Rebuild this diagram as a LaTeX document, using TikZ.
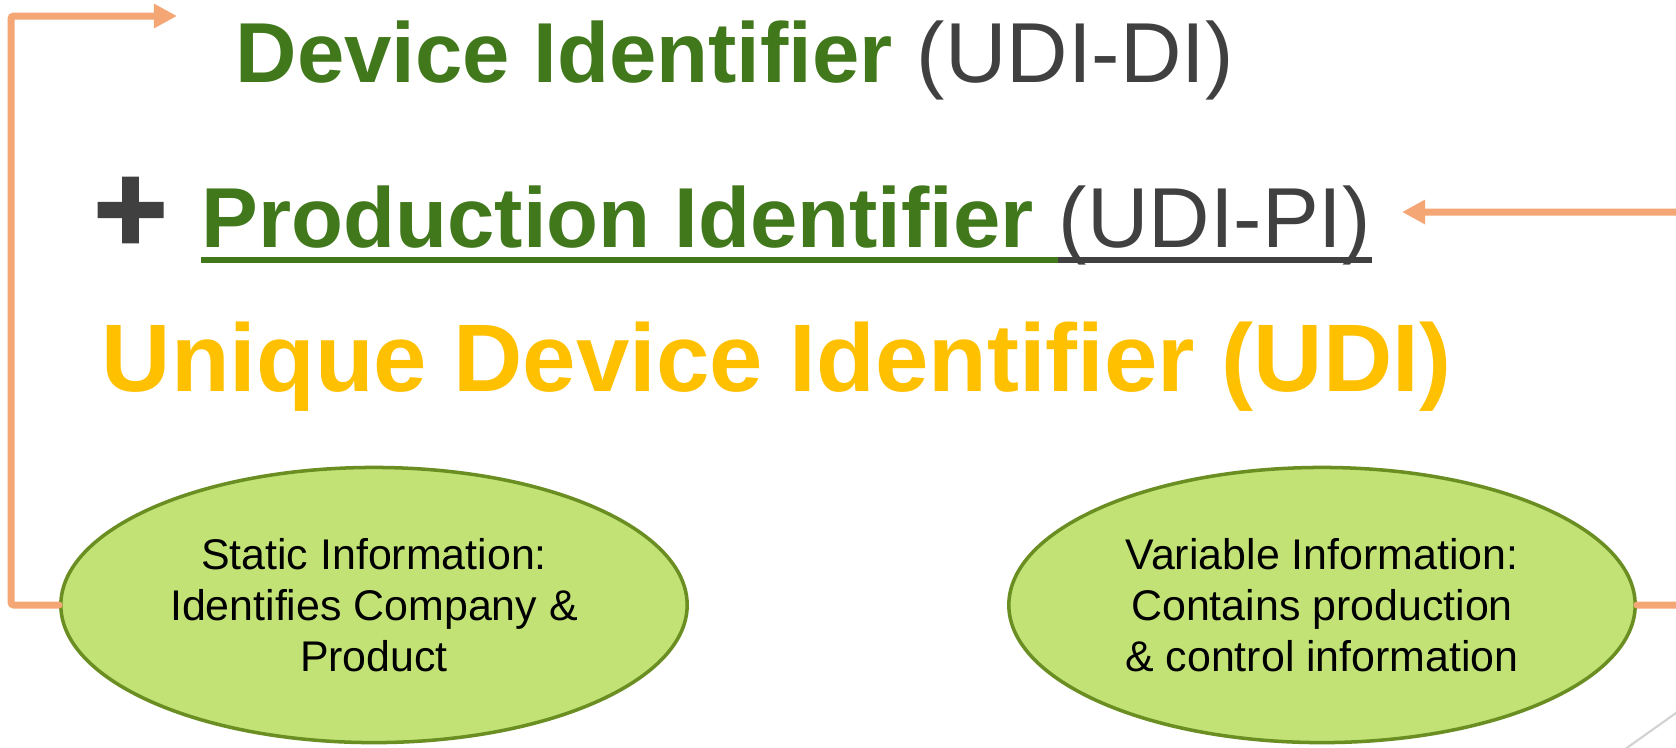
\documentclass[tikz,border=0pt]{standalone}
\usepackage{fontspec}
\setmainfont{Liberation Sans}
\newfontfamily\plusfont{Liberation Sans Bold}[FakeBold=2]
\usetikzlibrary{shapes.geometric}
\usetikzlibrary{arrows.meta}

\definecolor{idgreen}{RGB}{64,120,27}
\definecolor{idgray}{RGB}{64,64,64}
\definecolor{udiyellow}{RGB}{255,192,0}
\definecolor{linkorange}{RGB}{244,166,116}
\definecolor{infofill}{RGB}{194,226,118}
\definecolor{infoline}{RGB}{106,142,34}

\tikzset{
  info/.style={ellipse, draw=infoline, line width=1pt, fill=infofill,
    minimum width=6.26cm, minimum height=2.75cm, align=center,
    font=\fontsize{12.2pt}{14.5pt}\selectfont},
  link/.style={draw=linkorange, line width=2pt, line cap=round,
    rounded corners=0.8pt, -{Triangle[length=0.23cm,width=0.23cm]}},
  title/.style={anchor=base west, inner sep=0pt,
    font=\fontsize{24.2pt}{29pt}\selectfont}
}

\begin{document}
\begin{tikzpicture}[x=0.01cm, y=-0.01cm]
    \clip (0,0) rectangle (1676,747);
    \fill[white] (0,0) rectangle (1676,747);

    % the three title lines
    \node[title] (di) at (235,82) {\color{idgreen}\bfseries Device Identifier \color{idgray}\mdseries(UDI-DI)};
    \node[inner sep=0pt, text=idgray, font=\plusfont\fontsize{36pt}{40pt}\selectfont] (plus) at (130.5,215) {+};
    \node[title, text=idgreen, font=\bfseries\fontsize{24.2pt}{29pt}\selectfont] (prodid) at (201,247) {Production Identifier\ \hbox{}};
    \node[title, text=idgray] (pi) at (prodid.base east) {(UDI-PI)};
    \node[anchor=base west, inner sep=0pt, text=udiyellow, font=\bfseries\fontsize{27.3pt}{33pt}\selectfont] (udi) at (101,391) {Unique Device Identifier (UDI)};

    \draw[idgreen, line width=1.85pt] ([yshift=-0.13cm]prodid.base west) -- ([yshift=-0.13cm]prodid.base east);
    \draw[idgray, line width=1.85pt] ([yshift=-0.13cm]pi.base west) -- ([yshift=-0.13cm]pi.base east);

    % the two kinds of information
    \node[info] (static) at (374,605) {Static Information:\\Identifies Company \&\\Product};
    \node[info] (variable) at (1322,605) {Variable Information:\\Contains production\\\& control information};

    \coordinate (ditip) at (177,16);
    \coordinate (pitip) at (1402,212);
    \coordinate (farright) at (1700,400);

    \draw[link] (static.west) -- ++(-48,0) |- (ditip);
    \draw[link] (variable.east) -| (farright) |- (pitip);

    \draw[gray!35, line width=0.6pt] (1614,757) -- (1690,703);
\end{tikzpicture}
\end{document}
